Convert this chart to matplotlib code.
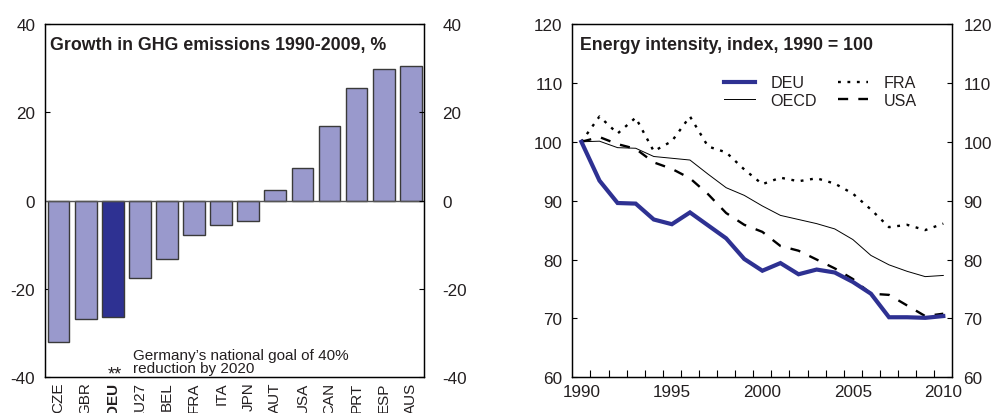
import matplotlib
matplotlib.use("Agg")
import matplotlib.pyplot as plt
from matplotlib.ticker import MultipleLocator

plt.rcParams["font.family"] = ["Liberation Sans", "DejaVu Sans"]
plt.rcParams["axes.unicode_minus"] = False

# Left panel: growth in GHG emissions 1990-2009, %
countries = ["CZE", "GBR", "DEU", "EU27", "BEL", "FRA", "ITA", "JPN",
             "AUT", "USA", "CAN", "PRT", "ESP", "AUS"]
ghg_growth = [-32.1, -26.8, -26.3, -17.5, -13.3, -7.7, -5.4, -4.5,
              2.4, 7.3, 16.9, 25.5, 29.9, 30.4]
highlight = "DEU"

# Right panel: energy intensity index, 1990 = 100
years = list(range(1990, 2011))
deu = [100, 93.4, 89.6, 89.5, 86.8, 86.0, 88.0, 85.8, 83.6, 80.1, 78.1,
       79.4, 77.5, 78.3, 77.8, 76.2, 74.2, 70.2, 70.2, 70.1, 70.4]
fra = [100, 104.3, 101.4, 104.1, 98.4, 100.1, 104.3, 99.2, 98.2, 95.3, 92.8,
       93.9, 93.3, 93.8, 92.9, 91.2, 88.5, 85.5, 85.9, 85.0, 86.1]
oecd = [100, 100.1, 99.0, 98.9, 97.5, 97.2, 96.9, 94.5, 92.2, 90.9, 89.1,
        87.5, 86.8, 86.1, 85.2, 83.4, 80.7, 79.1, 78.0, 77.1, 77.3]
usa = [100, 100.8, 99.6, 98.8, 96.5, 95.4, 93.8, 91.1, 87.9, 85.9, 84.7,
       82.3, 81.5, 80.0, 78.5, 76.7, 74.2, 74.0, 72.2, 70.4, 70.8]

LIGHT = "#9999cc"
DARK = "#2e3192"
TXT = "#231f20"
FS = 12.3
TITLE_FS = 12.8

fig = plt.figure(figsize=(9.94, 4.14), dpi=100)

# ---------------- left panel ----------------
ax1 = fig.add_axes([0.0453, 0.0862, 0.3816, 0.8534])
xs = list(range(len(countries)))
colors = [DARK if c == highlight else LIGHT for c in countries]
ax1.bar(xs, ghg_growth, width=0.8, color=colors, edgecolor="#3a3a3a",
        linewidth=1.0, zorder=2)
ax1.axhline(0, color="#555555", lw=1.0, zorder=3)
ax1.set_xlim(-0.5, len(countries) - 0.5)
ax1.set_ylim(-40, 40)
ax1.yaxis.set_major_locator(MultipleLocator(20))
ax1.set_xticks(xs)
ax1.set_xticklabels(countries, rotation=90, fontsize=11, color=TXT)
for lbl in ax1.get_xticklabels():
    if lbl.get_text() == highlight:
        lbl.set_fontweight("bold")
ax1.tick_params(axis="x", length=0, pad=3)
ax1.tick_params(axis="y", direction="in", length=3.5, width=0.8,
                labelsize=FS, labelcolor=TXT, pad=7)
ax1r = ax1.twinx()
ax1r.set_ylim(ax1.get_ylim())
ax1r.yaxis.set_major_locator(MultipleLocator(20))
ax1r.tick_params(axis="y", direction="in", length=3.5, width=0.8,
                 labelsize=FS, labelcolor=TXT, pad=13)
for a in (ax1, ax1r):
    for s in a.spines.values():
        s.set_linewidth(0.9)
        s.set_color("black")

ax1.text(0.012, 0.965, "Growth in GHG emissions 1990-2009, %",
         transform=ax1.transAxes, fontsize=TITLE_FS, fontweight="bold",
         color=TXT, va="top", ha="left")
ax1.text(2.08, -40.2, "**", fontsize=13, color=TXT, ha="center",
         va="baseline")
ax1.text(2.76, -35.85, "Germany\u2019s national goal of 40%", fontsize=11,
         color=TXT, ha="left", va="baseline")
ax1.text(2.76, -38.86, "reduction by 2020", fontsize=11, color=TXT,
         ha="left", va="baseline")

# ---------------- right panel ----------------
ax2 = fig.add_axes([0.5758, 0.0862, 0.3823, 0.8534])
ax2.plot(years, deu, color=DARK, lw=3.0, label="DEU", zorder=5,
         solid_joinstyle="miter")
ax2.plot(years, oecd, color="black", lw=0.7, label="OECD", zorder=3)
ax2.plot(years, fra, color="black", lw=1.7, linestyle=(0, (1.2, 2.8)),
         label="FRA", zorder=4)
ax2.plot(years, usa, color="black", lw=1.7, linestyle=(0, (4.3, 4.3)),
         label="USA", zorder=4)
ax2.set_xlim(1989.5, 2010.5)
ax2.set_ylim(60, 120)
ax2.yaxis.set_major_locator(MultipleLocator(10))
ax2.set_xticks(years[::5])
ax2.set_xticks([y + 0.5 for y in years[:-1]], minor=True)
ax2.tick_params(axis="x", which="major", length=0, pad=5,
                labelsize=FS, labelcolor=TXT)
ax2.tick_params(axis="x", which="minor", direction="in", length=5,
                width=0.8)
ax2.tick_params(axis="y", direction="in", length=3.5, width=0.8,
                labelsize=FS, labelcolor=TXT, pad=7)
ax2r = ax2.twinx()
ax2r.set_ylim(ax2.get_ylim())
ax2r.yaxis.set_major_locator(MultipleLocator(10))
ax2r.tick_params(axis="y", direction="in", length=3.5, width=0.8,
                 labelsize=FS, labelcolor=TXT, pad=8)
for a in (ax2, ax2r):
    for s in a.spines.values():
        s.set_linewidth(0.9)
        s.set_color("black")

ax2.text(0.021, 0.965, "Energy intensity, index, 1990 = 100",
         transform=ax2.transAxes, fontsize=TITLE_FS, fontweight="bold",
         color=TXT, va="top", ha="left")

handles, labels = ax2.get_legend_handles_labels()
order = [labels.index(k) for k in ["DEU", "OECD", "FRA", "USA"]]
ax2.legend([handles[i] for i in order], [labels[i] for i in order],
           ncol=2, loc="upper left", bbox_to_anchor=(0.40, 0.855),
           frameon=False, fontsize=11.6, handlelength=1.9,
           handletextpad=0.95, columnspacing=1.3, labelspacing=0.15,
           borderpad=0, borderaxespad=0, labelcolor=TXT)

fig.savefig("out.png", dpi=100)
